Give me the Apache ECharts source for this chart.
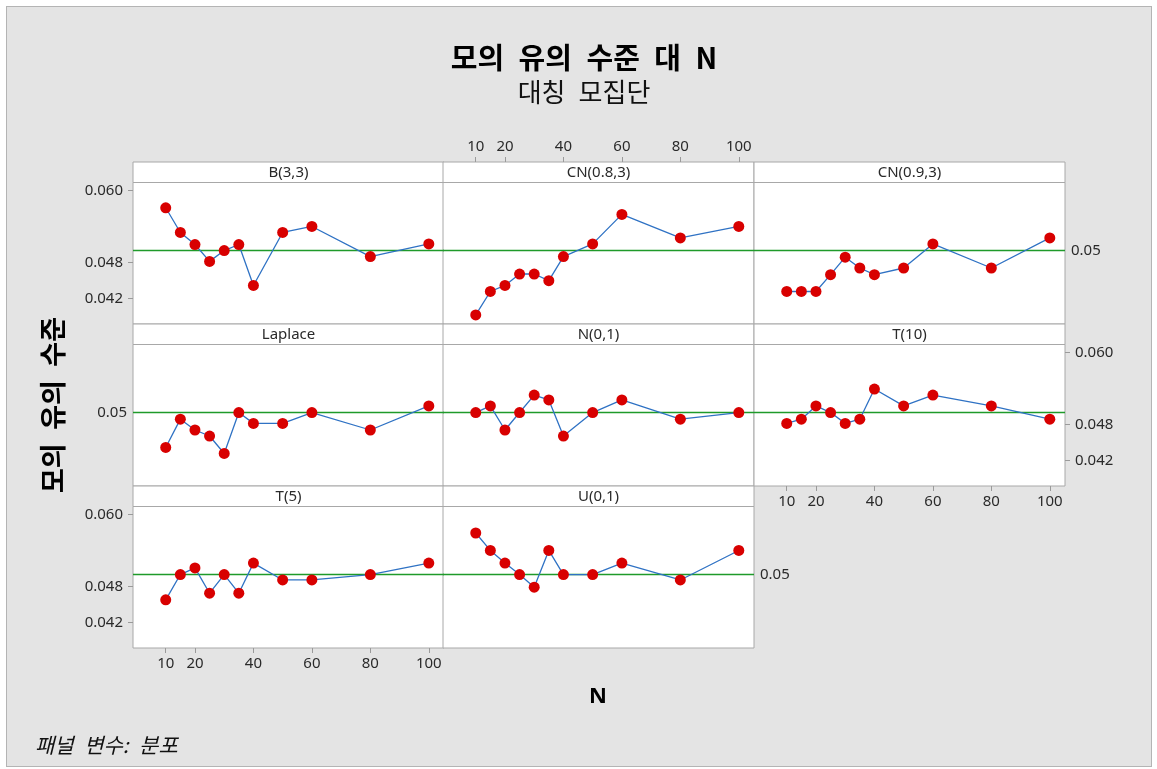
<!DOCTYPE html>
<html>
<head>
<meta charset="utf-8">
<script src="https://cdn.jsdelivr.net/npm/echarts@6/dist/echarts.min.js"></script>
<style>
  html, body { margin: 0; padding: 0; background: #fff; }
  #frame {
    position: absolute; left: 6px; top: 6px; width: 1144px; height: 759px;
    background: #e4e4e4; border: 1px solid #b4b4b4;
  }
  #main { position: absolute; left: 0; top: 0; width: 1157px; height: 769px; }
</style>
</head>
<body>
<div id="frame"></div>
<div id="main"></div>
<script>
// N (표본 크기)
const nValues = [10, 15, 20, 25, 30, 35, 40, 50, 60, 80, 100]
// 분포별 모의 유의 수준
const b33 = [0.0571, 0.0530, 0.0510, 0.0482, 0.0500, 0.0510, 0.0442, 0.0530, 0.0540, 0.0490, 0.0511]
const cn083 = [0.0393, 0.0432, 0.0442, 0.0461, 0.0461, 0.0450, 0.0490, 0.0511, 0.0560, 0.0521, 0.0540]
const cn093 = [0.0432, 0.0432, 0.0432, 0.0460, 0.0489, 0.0471, 0.0460, 0.0471, 0.0511, 0.0471, 0.0521]
const laplace = [0.0442, 0.0489, 0.0471, 0.0461, 0.0432, 0.0500, 0.0482, 0.0482, 0.0500, 0.0471, 0.0511]
const n01 = [0.0500, 0.0511, 0.0471, 0.0500, 0.0529, 0.0521, 0.0461, 0.0500, 0.0521, 0.0489, 0.0500]
const t10 = [0.0482, 0.0489, 0.0511, 0.0500, 0.0482, 0.0489, 0.0539, 0.0511, 0.0529, 0.0511, 0.0489]
const t5 = [0.0458, 0.0500, 0.0511, 0.0469, 0.0500, 0.0469, 0.0519, 0.0491, 0.0491, 0.0500, 0.0519]
const u01 = [0.0569, 0.0540, 0.0519, 0.0500, 0.0479, 0.0540, 0.0500, 0.0500, 0.0519, 0.0491, 0.0540]

const panelNames = ['B(3,3)', 'CN(0.8,3)', 'CN(0.9,3)', 'Laplace', 'N(0,1)', 'T(10)', 'T(5)', 'U(0,1)']
const panelValues = [b33, cn083, cn093, laplace, n01, t10, t5, u01]
const xTicks = [10, 20, 40, 60, 80, 100]
const yTicks = [0.042, 0.048, 0.060]
const refLevel = 0.05

// 패널 배치
const colLeft = [133, 443, 754]
const colW = 311
const rowTop = [162, 324, 486]
const stripH = 20.5
const plotH = 141.5
const borderColor = '#a8a8a8'
const textColor = '#2a2a2a'
const tickFont = 'Noto Sans'
const sp = '\u2002' // 넓은 공백

// 어느 패널에 축 눈금/기준선 라벨을 그릴지
const xAxisPos = { 6: 'bottom', 1: 'top', 5: 'bottom' }
const yAxisPos = { 0: 'left', 6: 'left', 5: 'right' }
const refLabelPos = { 2: 'end', 3: 'start', 7: 'end' }

const grid = []
const xAxis = []
const yAxis = []
const series = []
const graphic = []

panelNames.forEach((name, i) => {
  const r = Math.floor(i / 3)
  const c = i % 3
  const left = colLeft[c]
  const top = rowTop[r]

  // 스트립
  graphic.push({
    type: 'rect',
    shape: { x: left, y: top, width: colW, height: stripH },
    style: { fill: '#fff', stroke: borderColor, lineWidth: 1 }
  })
  graphic.push({
    type: 'text',
    x: left + colW / 2,
    y: top + stripH / 2 + 0.5,
    style: {
      text: name, fill: textColor, font: '15px "Noto Sans"',
      textAlign: 'center', textVerticalAlign: 'middle'
    }
  })

  grid.push({
    left: left, top: top + stripH, width: colW, height: plotH,
    show: true, backgroundColor: '#fff', borderColor: borderColor, borderWidth: 1
  })

  const xp = xAxisPos[i]
  xAxis.push({
    type: 'value', gridIndex: i, min: -1.2, max: 105.2,
    position: xp || 'bottom',
    offset: xp === 'top' ? stripH : 0,
    axisLine: { show: false, onZero: false },
    splitLine: { show: false },
    axisTick: {
      show: !!xp, inside: false, length: 5, customValues: xTicks,
      lineStyle: { color: '#9a9a9a' }
    },
    axisLabel: {
      show: !!xp, customValues: xTicks, margin: 8,
      color: textColor, fontSize: 15, fontFamily: tickFont
    }
  })

  const yp = yAxisPos[i]
  yAxis.push({
    type: 'value', gridIndex: i, min: 0.0378, max: 0.0613,
    position: yp || 'left',
    axisLine: { show: false, onZero: false },
    splitLine: { show: false },
    axisTick: {
      show: !!yp, length: 5, customValues: yTicks,
      lineStyle: { color: '#9a9a9a' }
    },
    axisLabel: {
      show: !!yp, customValues: yTicks, margin: 10,
      color: textColor, fontSize: 15, fontFamily: tickFont,
      formatter: v => v.toFixed(3)
    }
  })

  const lp = refLabelPos[i]
  series.push({
    name: name,
    type: 'line',
    xAxisIndex: i,
    yAxisIndex: i,
    data: nValues.map((n, k) => [n, panelValues[i][k]]),
    symbol: 'circle',
    symbolSize: 11,
    lineStyle: { color: '#2f72c4', width: 1.3 },
    itemStyle: { color: '#d80000' },
    z: 3,
    markLine: {
      silent: true,
      symbol: 'none',
      z: 2,
      lineStyle: { color: '#1f9a2a', width: 1.4, type: 'solid' },
      label: {
        show: !!lp, position: lp || 'end', distance: 6,
        formatter: String(refLevel), color: textColor, fontSize: 15, fontFamily: tickFont
      },
      data: [{ yAxis: refLevel }]
    }
  })
})

// 제목 및 축 이름
graphic.push({
  type: 'text', x: 584, y: 58,
  style: {
    text: ['모의', '유의', '수준', '대', 'N'].join(sp), fill: '#000', font: 'bold 29px "Noto Sans CJK KR"',
    textAlign: 'center', textVerticalAlign: 'middle'
  }
})
graphic.push({
  type: 'text', x: 584, y: 92,
  style: {
    text: '대칭' + sp + '모집단', fill: '#111', font: '26px "Noto Sans CJK KR"',
    textAlign: 'center', textVerticalAlign: 'middle'
  }
})
graphic.push({
  type: 'text', x: 53, y: 405, rotation: Math.PI / 2,
  style: {
    text: ['모의', '유의', '수준'].join(sp), fill: '#000', font: 'bold 27px "Noto Sans CJK KR"',
    textAlign: 'center', textVerticalAlign: 'middle'
  }
})
graphic.push({
  type: 'text', x: 598, y: 697,
  style: {
    text: 'N', fill: '#000', font: 'bold 22px "Noto Sans"',
    textAlign: 'center', textVerticalAlign: 'middle'
  }
})
graphic.push({
  type: 'text', x: 35, y: 745,
  style: {
    text: '패널' + sp + '변수:' + sp + '분포', fill: '#111', font: 'italic 21px "Noto Sans CJK KR"',
    textAlign: 'left', textVerticalAlign: 'middle'
  }
})

const myChart = echarts.init(document.getElementById('main'), null, { renderer: 'canvas' })
const option = {
  animation: false,
  backgroundColor: 'transparent',
  grid: grid,
  xAxis: xAxis,
  yAxis: yAxis,
  series: series,
  graphic: graphic
}
myChart.setOption(option)
</script>
</body>
</html>
